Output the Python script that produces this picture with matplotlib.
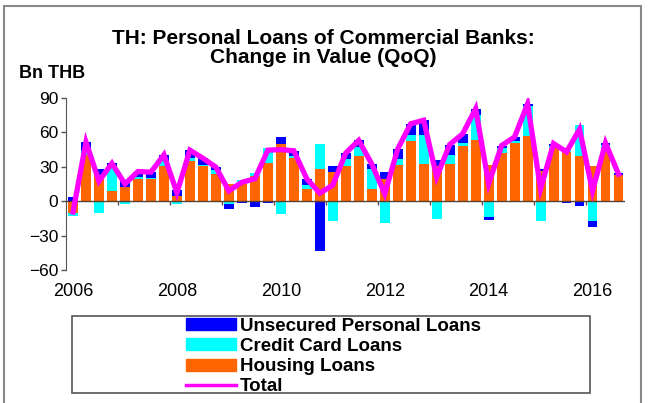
import matplotlib.pyplot as plt
from matplotlib.patches import Patch, Rectangle
from matplotlib.lines import Line2D
import numpy as np

plt.rcParams['font.family'] = ['Liberation Sans', 'DejaVu Sans']

#----Data (Bn THB, QoQ change), 2006Q1 .. 2016Q3----
quarters = [f"{y}Q{q}" for y in range(2006, 2017) for q in range(1, 5)][:43]

housing = [-10.2, 40.0, 23.0, 8.7, 12.2, 19.5, 19.5, 31.0, 4.8, 35.0,
           31.0, 23.3, 15.4, 15.0, 22.0, 33.0, 50.0, 37.5, 11.0, 28.0,
           25.5, 31.0, 39.0, 10.5, 19.5, 32.0, 52.5, 32.8, 31.1, 32.6,
           48.0, 53.0, 32.0, 42.2, 51.0, 56.7, 26.2, 46.5, 42.5, 39.2,
           31.1, 46.5, 22.6]
credit_card = [-3.0, 3.5, -10.5, 21.8, -2.3, 1.7, 0.5, 3.7, -2.5, 2.5,
               1.0, 3.8, -2.5, 3.5, 2.5, 13.5, -11.0, 2.0, 3.5, 22.0,
               -17.0, 5.5, 8.7, 17.5, -19.0, 4.5, 5.0, 25.3, -15.2, 7.5,
               3.0, 22.5, -14.0, 4.3, 1.5, 26.2, -17.4, 1.8, 2.0, 27.4,
               -17.4, 2.3, -1.0]
unsecured = [3.8, 8.0, 5.0, 3.0, 5.0, 4.7, 5.5, 6.0, 5.0, 7.0,
             5.5, 2.6, -3.9, -2.0, -5.0, -2.0, 6.0, 4.5, 5.0, -43.0,
             5.5, 5.5, 5.3, 4.5, 6.0, 9.0, 10.0, 12.5, 5.2, 9.3,
             7.7, 5.2, -2.8, 2.0, 3.6, 2.0, 2.0, 2.0, -1.5, -3.8,
             -4.7, 2.0, 2.0]
total = [-9.4, 51.5, 17.5, 33.0, 15.0, 25.9, 25.3, 40.5, 7.3, 44.5,
         37.5, 29.7, 9.0, 16.5, 19.5, 44.5, 45.0, 44.0, 19.5, 7.0,
         14.0, 42.0, 53.0, 32.5, 6.5, 45.5, 67.5, 70.6, 21.1, 49.4,
         58.7, 80.7, 15.2, 48.5, 56.1, 84.9, 10.8, 50.3, 43.0, 62.8,
         9.0, 50.8, 23.6]

year_labels = ["2006", "2008", "2010", "2012", "2014", "2016"]

W, H = 648, 403
fig = plt.figure(figsize=(W / 100, H / 100), dpi=100)
ax = fig.add_axes([66 / W, 1 - 270 / H, (625 - 66) / W, (270 - 98) / H])

x = np.arange(len(quarters))
pos = np.zeros(len(x))
neg = np.zeros(len(x))
series = [(housing, "#FF6600", "Housing Loans"),
          (credit_card, "#00FFFF", "Credit Card Loans"),
          (unsecured, "#0000FF", "Unsecured Personal Loans")]
for vals, col, lab in series:
    v = np.array(vals)
    bottom = np.where(v >= 0, pos, neg)
    ax.bar(x, v, bottom=bottom, width=0.76, color=col, zorder=2)
    pos = pos + np.where(v >= 0, v, 0)
    neg = neg + np.where(v < 0, v, 0)

ax.axhline(0, color="#5a4030", lw=1, zorder=3)
# small ticks on the zero line at year boundaries
bounds = np.arange(3.5, len(x), 4)
ax.vlines(bounds, -3, 0, color="#555555", lw=1, zorder=3)

ax.plot(x, total, color="#FF00FF", lw=3.8, zorder=4, solid_joinstyle="miter")

ax.set_xlim(-0.54, 42.5)
ax.set_ylim(-60, 90)
ax.set_yticks(range(-60, 91, 30))
ax.tick_params(axis="y", labelsize=12.5, length=3.5, width=1, pad=2, color="#555555")
ax.set_xticks(x[::8])
ax.set_xticklabels(year_labels)
ax.tick_params(axis="x", labelsize=13, length=0, pad=9)
for s in ["top", "right", "bottom"]:
    ax.spines[s].set_visible(False)
ax.spines["left"].set_color("#555555")

fig.text(323 / W, 1 - 48 / H, "TH: Personal Loans of Commercial Banks:\nChange in Value (QoQ)",
         ha="center", va="center", fontsize=15, fontweight="bold", linespacing=0.95)
fig.text(19 / W, 1 - 73 / H, "Bn THB", ha="left", va="center", fontsize=13, fontweight="bold")

# figure border and legend box
fig.patches.append(Rectangle((4 / W, -0.1), (641 - 4) / W, 1.1 - 6 / H, transform=fig.transFigure,
                             fill=False, edgecolor="#888888", lw=1.5))
fig.patches.append(Rectangle((72 / W, 1 - 393 / H), (590 - 72) / W, (393 - 316) / H,
                             transform=fig.transFigure, fill=False, edgecolor="#555555", lw=1.2))

handles = [Patch(color="#0000FF"), Patch(color="#00FFFF"), Patch(color="#FF6600"),
           Line2D([], [], color="#FF00FF", lw=2.5)]
labels = ["Unsecured Personal Loans", "Credit Card Loans", "Housing Loans", "Total"]
fig.legend(handles, labels, loc="upper left", bbox_to_anchor=(183 / W, 1 - 315 / H),
           frameon=False, borderpad=0.15, borderaxespad=0, handlelength=2.7, handleheight=0.6,
           handletextpad=0.2, labelspacing=0.17, prop={"weight": "bold", "size": 13.5})

plt.savefig("out.png", dpi=100)
